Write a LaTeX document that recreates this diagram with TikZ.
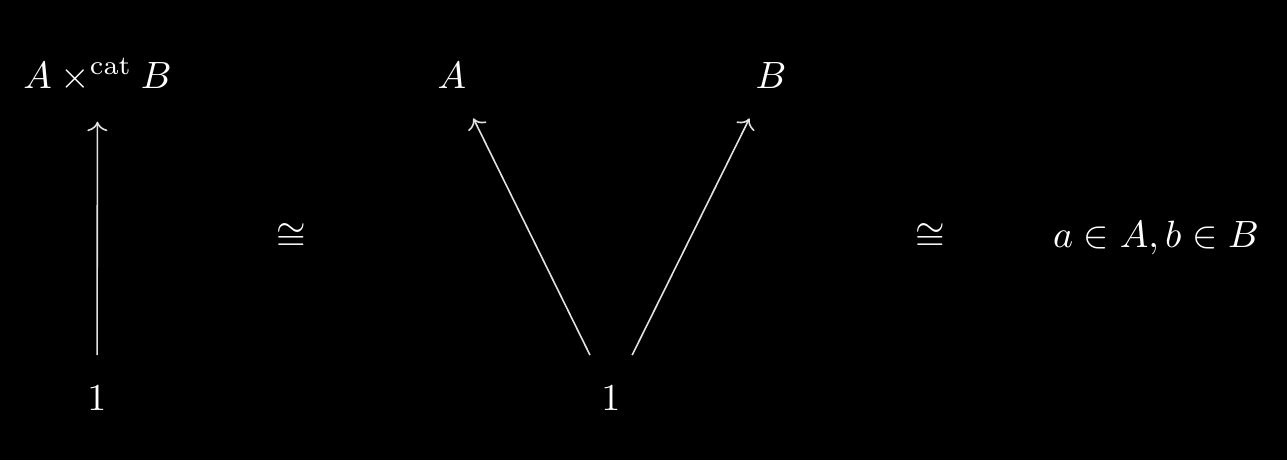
\documentclass[tikz,border=0pt]{standalone}
\usetikzlibrary{arrows.meta}
\definecolor{linegray}{RGB}{225,225,225}
\begin{document}
\begin{tikzpicture}[x=0.263pt,y=-0.263pt,
  obj/.style={text=white,inner sep=7.8pt,anchor=base},
  rel/.style={text=white,inner sep=0pt},
  mor/.style={draw=linegray,line width=0.42pt,-{Computer Modern Rightarrow[]}}]
\fill[black] (0,0) rectangle (1287,460);
\useasboundingbox (0,0) rectangle (1287,460);
\node[obj] (prod) at (97.5,88) {$A \times^{\mathrm{cat}} B$};
\node[obj] (one1) at (97,410) {$1$};
\node[rel] (iso1) at (291,237) {$\cong$};
\node[obj] (A) at (452,88) {$A$};
\node[obj] (B) at (771,88) {$B$};
\node[obj] (one2) at (611,410) {$1$};
\node[rel] (iso2) at (930,237) {$\cong$};
\node[obj] (el) at (1156,247) {$a \in A, b \in B$};
\draw[mor] (one1) -- (prod);
\draw[mor] (one2) -- (A);
\draw[mor] (one2) -- (B);
\end{tikzpicture}
\end{document}
